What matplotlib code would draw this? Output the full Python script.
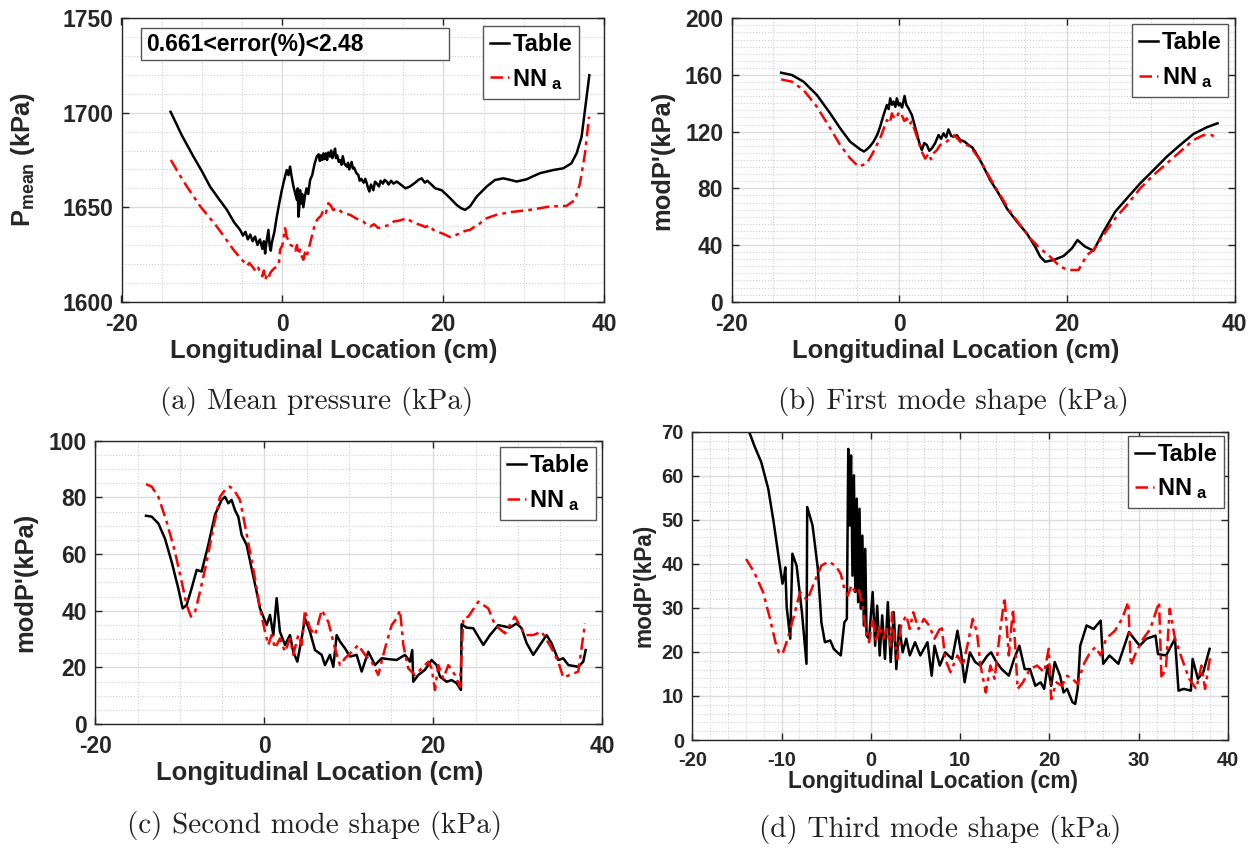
import numpy as np
import matplotlib
matplotlib.use('Agg')
import matplotlib.pyplot as plt
from matplotlib.ticker import MultipleLocator
from matplotlib.patches import Rectangle

plt.rcParams['font.family'] = ['Liberation Sans', 'DejaVu Sans']
plt.rcParams['font.weight'] = 'bold'
plt.rcParams['axes.labelweight'] = 'bold'
plt.rcParams['axes.unicode_minus'] = False
plt.rcParams['mathtext.fontset'] = 'custom'
plt.rcParams['mathtext.bf'] = 'Liberation Sans:bold'
plt.rcParams['mathtext.rm'] = 'Liberation Sans:bold'
plt.rcParams['mathtext.it'] = 'Liberation Sans:bold'
plt.rcParams['mathtext.default'] = 'bf'

# ---- (a) mean pressure ----
xa_table = [-13.9, -13.5, -12.5, -11.06, -10, -8.99, -8, -6.9, -6, -5.26, -4.9, -4.6, -4.3, -4.0, -3.7,
            -3.4, -3.1, -2.8, -2.5, -2.3, -2.15, -2.0, -1.85, -1.74, -1.6, -1.45, -1.33, -1.0, -0.7,
            -0.4, -0.08, 0.25, 0.54, 0.75, 0.95, 1.15, 1.37, 1.55, 1.78, 1.9, 1.99, 2.1, 2.19, 2.35,
            2.45, 2.6, 2.8, 3.0, 3.2, 3.44, 3.7, 4.0, 4.27, 4.5, 4.65, 4.8, 4.95, 5.1, 5.25, 5.4, 5.55,
            5.7, 5.92, 6.05, 6.2, 6.4, 6.54, 6.65, 6.8, 7.0, 7.16, 7.35, 7.5, 7.7, 8.0, 8.15, 8.3, 8.45,
            8.6, 8.75, 8.9, 9.2, 9.44, 9.6, 9.8, 10.1, 10.3, 10.48, 10.65, 10.8, 11.0, 11.3, 11.5, 11.7,
            12.0, 12.2, 12.5, 12.7, 12.96, 13.2, 13.5, 13.8, 14.2, 14.7, 15.3, 15.86, 16.5, 16.9, 17.3,
            17.7, 18.0, 18.34, 19.0, 19.79, 20.3, 20.83, 21.66, 22.2, 22.7, 23.3, 24.14, 25.4, 26.4,
            27.45, 28.3, 29.1, 30.35, 31.2, 32.0, 33.66, 34.9, 35.9, 36.56, 37.18, 37.6, 38.14]
pa_table = [1700.5, 1697, 1688, 1676.8, 1669, 1660.9, 1655, 1648.6, 1642, 1638, 1635, 1637, 1633, 1635.5,
            1632, 1634.5, 1630, 1633, 1628, 1632, 1625.5, 1631, 1635, 1638, 1630, 1627, 1631, 1637, 1645,
            1652, 1659, 1665, 1669.7, 1667, 1671.5, 1666, 1661, 1658, 1654, 1660, 1645, 1650, 1659, 1652,
            1657, 1650, 1656, 1660, 1657, 1664.4, 1667, 1673, 1676.8, 1678, 1674.5, 1677.5, 1675, 1678.5,
            1675.5, 1678.5, 1675, 1679, 1676.8, 1680, 1676, 1678.5, 1681, 1676, 1677.5, 1674, 1675, 1672.5,
            1677, 1673, 1671.5, 1673.5, 1670, 1672, 1674, 1670.5, 1671, 1668, 1667, 1664, 1665, 1663,
            1665, 1662.7, 1660, 1658.3, 1662, 1659, 1663.5, 1662.7, 1661, 1664, 1662.5, 1664.5, 1663.6,
            1662, 1664, 1662.5, 1663.6, 1662, 1660, 1661, 1663, 1664.5, 1665.3, 1663, 1664, 1662.7, 1660,
            1659, 1657, 1654.8, 1651.2, 1649.5, 1648.6, 1650.4, 1655.6, 1661, 1664.4, 1665.3, 1664.5,
            1663.6, 1664.8, 1666.5, 1668, 1669.7, 1670.6, 1673.2, 1678.5, 1687.3, 1701.4, 1719.9]
xa_nn = [-13.87, -12.9, -11.88, -10.2, -8.16, -7, -6.09, -5.5, -4.84, -4.4, -4.1, -3.6, -3.3, -3.0, -2.77,
         -2.5, -2.3, -2.15, -1.9, -1.7, -1.53, -1.2, -0.7, -0.45, -0.29, 0.0, 0.33, 0.55, 0.75, 1.0, 1.37,
         1.6, 1.8, 2.0, 2.19, 2.4, 2.6, 2.8, 3.0, 3.23, 3.5, 3.85, 4.1, 4.47, 4.8, 5.1, 5.4, 5.7, 6.0, 6.3,
         6.75, 7.5, 8.4, 9.2, 10.06, 10.5, 10.89, 11.4, 11.9, 12.55, 13.2, 13.8, 14.6, 15.44, 16.2, 17.1,
         17.8, 18.2, 18.76, 19.3, 20.0, 20.83, 21.4, 22.07, 22.7, 23.3, 23.8, 24.14, 24.8, 25.4, 26.6, 28.3,
         30.76, 33.25, 35.3, 36.36, 36.98, 37.6, 38.1]
pa_nn = [1675, 1668, 1661, 1650.4, 1639.8, 1633, 1627.5, 1624.5, 1621.3, 1619, 1620.5, 1617.8, 1616, 1618,
         1615.1, 1613.5, 1616.5, 1611.6, 1614.5, 1613, 1615.1, 1617, 1618.7, 1620, 1627.5, 1630, 1638.9,
         1634, 1632.7, 1630, 1629.2, 1627, 1630, 1625, 1627.5, 1624, 1622.2, 1626, 1624, 1627.5, 1632,
         1638, 1642, 1644.2, 1645.5, 1648.6, 1647, 1652.1, 1651, 1648.5, 1649.5, 1647, 1646, 1644, 1642.4,
         1640.5, 1639.8, 1641, 1639, 1639.8, 1640.5, 1642.4, 1643, 1644.2, 1642, 1640.7, 1639.5, 1640.5,
         1638, 1637, 1635.9, 1634.2, 1635, 1636.3, 1637.5, 1638, 1639.5, 1639.8, 1642.5, 1644.2, 1646,
         1647.4, 1648.6, 1650.4, 1650.7, 1653.9, 1662.7, 1678.5, 1697.9]

# ---- (b) first mode ----
xb_table = [-14.08, -12.8, -11.41, -9.82, -8.23, -7.04, -5.85, -4.65, -4.2, -3.86, -3.5, -3.06, -2.6,
            -2.27, -1.9, -1.47, -1.25, -1.07, -0.85, -0.68, -0.45, -0.28, -0.05, 0.12, 0.35, 0.64, 0.85,
            1.11, 1.51, 2.11, 2.4, 2.7, 3.0, 3.3, 3.6, 3.9, 4.3, 4.69, 5.0, 5.29, 5.6, 5.88, 6.2, 6.48,
            6.9, 7.28, 7.8, 8.27, 8.7, 9.06, 9.86, 10.85, 11.85, 12.84, 14.04, 15.23, 16.22, 16.82,
            17.42, 18.41, 19.6, 20.6, 21.27, 22.19, 23.18, 24.37, 25.77, 27.16, 28.75, 30.34, 31.93,
            33.52, 35.11, 36.7, 37.97]
mb_table = [161.6, 160, 155.3, 145.9, 132.9, 122.4, 112.9, 107.5, 106, 107.5, 109.5, 112.9, 118, 123.5,
            131, 138.8, 136, 143.5, 139, 141.2, 137.5, 143.5, 138.5, 140, 137, 145.2, 139, 136.5, 131.8,
            118.8, 112, 107.1, 112, 110.6, 106.5, 108.2, 112, 117.6, 115, 118.8, 116, 121.6, 117, 116.5,
            117.5, 114.1, 113, 110.6, 109, 105.9, 97.6, 85.9, 76.5, 65.9, 56.5, 48.2, 38.8, 31.8, 28.2,
            29.4, 32.2, 37.6, 43.5, 38.8, 36, 49.4, 63.5, 72.9, 83.5, 92.9, 102.4, 110.6, 118.4, 123.1,
            125.9]
xb_nn = [-14.08, -12.8, -11.41, -9.82, -8.23, -7.04, -5.85, -4.85, -3.86, -3.06, -2.27, -1.47, -1.1, -0.87,
         -0.55, -0.28, 0.0, 0.32, 0.6, 0.91, 1.2, 1.51, 2.11, 2.7, 3.1, 3.5, 3.8, 4.1, 4.5, 4.89, 5.5, 6.08,
         6.6, 7.28, 8.47, 9.66, 10.85, 12.05, 13.24, 14.43, 15.63, 16.82, 18.01, 19.2, 20.2, 21.39, 22.39,
         23.18, 24.37, 25.77, 27.16, 28.75, 30.34, 31.93, 33.52, 35.11, 36.3, 37.3, 37.97]
mb_nn = [156.9, 155.3, 149.4, 137.6, 122.4, 110.6, 101.2, 95.3, 97.6, 105.9, 115.3, 128.2, 126, 132.9, 129,
         130.6, 134, 131.8, 127.5, 129.4, 125, 127.1, 116.5, 105.9, 101, 104.5, 100.5, 104.7, 107, 110.6,
         112, 115.3, 117.5, 112.9, 109.4, 100, 87.1, 75.3, 63.5, 54.1, 44.7, 37.6, 31.8, 24.7, 22.4, 22.4,
         32.9, 36.5, 47.1, 58.8, 68.2, 80, 89.4, 97.6, 105.9, 114.1, 117.6, 117.6, 114.1]

# ---- (c) second mode ----
xc_table = [-14.0, -13.33, -12.54, -11.76, -10.97, -10.18, -9.66, -9.19, -8.6, -8.0, -7.42, -6.63, -5.84,
            -5.05, -4.65, -4.26, -3.87, -3.47, -3.08, -2.68, -2.09, -1.5, -0.91, -0.51, -0.12, 0.28, 0.67,
            1.07, 1.46, 1.85, 2.45, 3.04, 3.43, 3.91, 4.42, 4.81, 5.4, 6.0, 6.79, 7.18, 7.77, 8.17, 8.56,
            8.96, 9.55, 10.14, 10.93, 11.52, 12.31, 13.1, 13.89, 14.68, 15.66, 16.65, 17.24, 17.51, 17.63,
            18.22, 19.01, 19.8, 20.39, 20.79, 21.58, 22.17, 22.76, 23.27, 23.35, 23.94, 24.73, 25.92, 26.71,
            27.69, 28.48, 29.07, 29.86, 30.45, 31.05, 31.83, 32.62, 33.41, 34.0, 34.79, 35.38, 35.98, 37.16,
            37.75, 38.03]
mc_table = [73.5, 73.2, 70.8, 65.5, 57.3, 47.9, 40.8, 42, 47.9, 54.4, 53.8, 63.2, 73.8, 79.1, 80.2, 77.9,
            79.1, 75.5, 73.2, 66.7, 63.2, 54.9, 46.7, 40.8, 37.9, 34.9, 38.5, 31.4, 44.4, 32.6, 27.9, 31.4,
            25.5, 22, 30.2, 37.3, 32.6, 26.1, 24.4, 20.8, 24.4, 20.2, 31.4, 29.1, 26.7, 23.8, 24.4, 18.5, 25.5,
            20.8, 23.2, 22.9, 22.6, 24.4, 22, 26.1, 14.9, 17.3, 19.1, 22.6, 20.8, 16.7, 14.9, 15.5, 14.4, 12,
            35.2, 34, 33.8, 27.9, 31.4, 34.9, 34.4, 34, 35.5, 33.8, 28.5, 24.4, 27.9, 31.4, 28.5, 22.6, 23.2,
            20.8, 20.2, 22, 26.1]
xc_nn = [-14.0, -13.33, -12.54, -11.56, -10.57, -9.78, -9.19, -8.68, -8.2, -7.61, -6.82, -6.04, -5.25, -4.65,
         -4.06, -3.47, -2.88, -2.29, -1.7, -1.1, -0.51, 0.08, 0.47, 0.87, 1.26, 1.85, 2.45, 3.04, 3.43, 4.02,
         4.42, 4.81, 5.4, 6.0, 6.79, 7.57, 8.36, 8.96, 9.55, 10.34, 11.12, 11.91, 12.7, 13.49, 14.28, 15.07,
         15.66, 16.06, 16.45, 17.04, 17.83, 18.62, 19.41, 19.8, 20.2, 20.59, 21.18, 21.78, 22.56, 23.15,
         23.55, 24.14, 25.33, 26.51, 27.3, 28.48, 29.66, 30.85, 31.83, 32.82, 34.0, 34.79, 35.38, 37.16,
         37.95]
mc_nn = [84.7, 83.8, 80.2, 71.4, 60.8, 50.2, 42, 37.9, 39.6, 46.7, 57.3, 69.1, 80.2, 82.6, 83.8, 82, 79.1,
         70.2, 60.8, 51.4, 40.8, 32.6, 27.9, 31.4, 26.7, 30.2, 25.5, 30.2, 24.4, 31.4, 27.9, 40.2, 33.8,
         31.4, 40.2, 36.1, 26.7, 20.8, 23.2, 25.5, 27.9, 24.4, 22, 17.3, 26.7, 34.9, 37.3, 40.2, 27.9, 19.6,
         17.3, 19.6, 22, 19.6, 12, 20.8, 16.1, 20.8, 17.3, 13.2, 37.3, 37.9, 43.2, 40.8, 34.9, 32, 37.9, 31.4,
         31.4, 32.6, 26.7, 22, 16.4, 18.5, 35.5]

# ---- (d) third mode ----
xd_table = [-14.0, -13.07, -12.28, -11.49, -10.89, -10.3, -9.9, -9.7, -9.58, -9.43, -9.03, -8.79, -8.32,
            -7.72, -7.21, -7.13, -6.53, -5.94, -5.54, -5.15, -4.55, -4.16, -3.76, -3.37, -2.97, -2.69, -2.53,
            -2.38, -2.22, -2.06, -1.9, -1.74, -1.58, -1.43, -1.27, -1.11, -0.95, -0.79, -0.63, -0.48, -0.2,
            0.2, 0.48, 0.71, 0.99, 1.27, 1.58, 1.9, 2.22, 2.57, 2.85, 3.17, 3.56, 3.96, 4.36, 4.95, 5.54, 6.34,
            6.81, 7.13, 7.72, 8.32, 9.11, 9.7, 10.1, 10.5, 11.09, 11.68, 12.28, 13.07, 13.47, 14.06, 14.65,
            15.45, 16.04, 16.63, 17.23, 17.82, 18.42, 19.01, 19.41, 19.8, 20.2, 20.59, 21.19, 21.58, 21.98,
            22.57, 22.89, 23.17, 23.45, 24.16, 24.95, 25.74, 26.02, 26.73, 27.72, 28.91, 30.1, 30.89, 31.88,
            32.16, 33.07, 34.06, 34.46, 35.05, 35.84, 36.04, 36.63, 37.23, 37.94]
md_table = [72, 66.9, 63.1, 57, 49.5, 41.1, 35.5, 37.3, 39.2, 30.2, 23, 42.3, 39.6, 29, 17.3, 52.9, 48.7,
            38.9, 26.7, 22.2, 22.6, 20.7, 19.9, 19.2, 26.7, 27.5, 66.1, 48.7, 64.6, 37.3, 60.1, 33.6, 54.8,
            31.3, 52.5, 29.8, 46.4, 26, 43.4, 23.7, 23, 33.6, 21.4, 30.5, 19.2, 28.3, 18.4, 31.3, 17.7, 29,
            16.1, 26, 19.9, 23, 19.2, 22.2, 19.2, 22.2, 14.6, 21.4, 16.9, 19.9, 18.4, 24.8, 19.9, 13.1, 19.9,
            17.7, 16.9, 19.2, 19.9, 17.7, 16.1, 14.6, 18.4, 21.4, 16.1, 16.1, 12.3, 13.1, 11.6, 16.9, 12.3,
            17.7, 14.6, 10.8, 11.6, 8.6, 8.2, 11.6, 21.4, 26, 25.2, 27.1, 17.3, 19.2, 17.3, 24.5, 21.4, 23,
            23.7, 19.5, 19.2, 23, 11.2, 11.6, 11.2, 18.4, 13.9, 15.4, 20.7]
xd_nn = [-13.98, -13.07, -12.08, -11.29, -10.69, -10.3, -9.9, -9.31, -8.71, -7.92, -7.13, -6.34, -5.54,
         -4.75, -3.96, -3.37, -2.97, -2.57, -2.18, -1.78, -1.39, -0.99, -0.59, -0.2, 0.2, 0.59, 0.99, 1.39,
         1.78, 2.18, 2.38, 2.57, 2.97, 3.37, 3.96, 4.36, 4.75, 5.35, 5.94, 6.53, 7.13, 7.92, 8.32, 8.91, 9.7,
         10.3, 10.89, 11.41, 11.88, 12.28, 12.87, 13.39, 13.86, 14.46, 14.97, 15.45, 15.92, 16.44, 17.03,
         17.82, 18.61, 19.41, 19.92, 20.2, 20.79, 21.39, 21.98, 22.57, 23.17, 23.76, 24.55, 25.15, 25.74,
         26.34, 27.33, 28.12, 28.83, 29.11, 29.7, 30.5, 31.29, 32.28, 32.55, 33.07, 33.47, 34.06, 34.85,
         35.64, 36.44, 37.03, 37.43, 38.02]
md_nn = [41.1, 38.1, 33.6, 27.5, 22.2, 19.9, 19.5, 23, 27.5, 33.6, 31.7, 35.8, 39.6, 40.5, 39.6, 37.7, 34.3,
         32.8, 35.1, 33.6, 34.3, 31.3, 25.2, 22.2, 27.5, 22.2, 26, 23, 25.2, 21.4, 29, 23.7, 18.4, 26, 28.3,
         25.2, 29, 25.2, 27.5, 26, 23, 26, 18.4, 15.4, 19.2, 16.9, 22.2, 27.5, 24.5, 16.9, 10.8, 16.9, 13.9,
         24.5, 32.4, 19.2, 29.8, 11.6, 13.1, 16.1, 16.9, 15.4, 20.7, 9.3, 13.1, 12.3, 14.6, 13.9, 12.7, 16.9,
         19.9, 21.1, 19.2, 23, 24.8, 27.5, 31.3, 16.9, 19.9, 23, 25.2, 31.3, 13.9, 16.9, 29.8, 23, 18.4, 13.9,
         11.6, 16.9, 11.6, 19.2]

W, H = 1260, 848
fig = plt.figure(figsize=(W / 100, H / 100), dpi=100)


def box(l, r, t, b):
	return [l / W, 1 - b / H, (r - l) / W, (b - t) / H]


red_ls = (0, (5, 2, 1.5, 2))
dark = '#262626'


def style_axes(ax, xlim, ylim, yminor, xminor, tick_fs, lab_fs, ylabel, ylab_x, leg_anchor):
	ax.set_xlim(*xlim)
	ax.set_ylim(*ylim)
	ax.yaxis.set_minor_locator(MultipleLocator(yminor))
	ax.xaxis.set_minor_locator(MultipleLocator(xminor))
	ax.grid(True, which='major', color='#dcdcdc', linewidth=1.0, zorder=0)
	ax.grid(True, which='minor', color='#cfcfcf', linestyle=':', linewidth=0.8, zorder=0)
	ax.set_axisbelow(True)
	ax.tick_params(which='major', direction='in', length=5, width=1, top=True, right=True,
				   labelsize=tick_fs, colors=dark)
	ax.tick_params(axis='x', pad=8)
	ax.tick_params(axis='y', pad=6)
	ax.tick_params(which='minor', length=0)
	for s in ax.spines.values():
		s.set_color(dark)
		s.set_linewidth(1.0)
	ax.set_xlabel('Longitudinal Location (cm)', fontsize=lab_fs, color=dark)
	ax.set_ylabel(ylabel, fontsize=lab_fs, color=dark)
	ax.yaxis.set_label_coords(ylab_x, 0.5)
	leg = ax.legend(loc='upper right', bbox_to_anchor=leg_anchor, fontsize=17, handlelength=0.8,
					handletextpad=0.15, borderpad=0.3, labelspacing=0.45, fancybox=False,
					framealpha=1, edgecolor='#555555', borderaxespad=0)
	leg.get_frame().set_linewidth(1.0)
	return leg


nn_label = r'$\mathbf{NN}_{\ \mathbf{a}}$'

# (a)
ax = fig.add_axes(box(121.5, 604.3, 18.3, 301.7))
ax.plot(xa_table, pa_table, color='black', lw=1.8, label='Table')
ax.plot(xa_nn, pa_nn, color='red', lw=1.8, linestyle=red_ls, label=nn_label)
ax.set_xticks([-20, 0, 20, 40])
ax.set_yticks([1600, 1650, 1700, 1750])
style_axes(ax, (-20, 40), (1600, 1750), 10, 5, 16.5, 18.4, r'$\mathbf{P}_{\mathbf{mean}}$ (kPa)', -0.175,
		   (0.948, 0.973))
ax.add_patch(Rectangle((0.040, 0.853), 0.638, 0.112, transform=ax.transAxes, fc='white',
					   ec='#555555', lw=1.0, zorder=4))
ax.text(0.052, 0.909, '0.661<error(%)<2.48', transform=ax.transAxes, fontsize=16.5, va='center',
		ha='left', color='black', zorder=5)
ax.xaxis.set_label_coords(0.44, -0.13)

# (b)
ax = fig.add_axes(box(731.5, 1234.5, 18.3, 301.7))
ax.plot(xb_table, mb_table, color='black', lw=1.8, label='Table')
ax.plot(xb_nn, mb_nn, color='red', lw=1.8, linestyle=red_ls, label=nn_label)
ax.set_xticks([-20, 0, 20, 40])
ax.set_yticks([0, 40, 80, 120, 160, 200])
style_axes(ax, (-20, 40), (0, 200), 5, 5, 16.5, 18.4, "modP'(kPa)", -0.114, (0.988, 0.979))
ax.xaxis.set_label_coords(0.446, -0.13)

# (c)
ax = fig.add_axes(box(95.3, 602.3, 440.7, 724))
ax.plot(xc_table, mc_table, color='black', lw=1.8, label='Table')
ax.plot(xc_nn, mc_nn, color='red', lw=1.8, linestyle=red_ls, label=nn_label)
ax.set_xticks([-20, 0, 20, 40])
ax.set_yticks([0, 20, 40, 60, 80, 100])
style_axes(ax, (-20, 40), (0, 100), 5, 5, 16.5, 18.4, "modP'(kPa)", -0.115, (0.988, 0.977))
ax.xaxis.set_label_coords(0.443, -0.13)

# (d)
ax = fig.add_axes(box(692.3, 1228, 431.7, 740))
ax.plot(xd_table, md_table, color='black', lw=1.8, label='Table')
ax.plot(xd_nn, md_nn, color='red', lw=1.8, linestyle=red_ls, label=nn_label)
ax.set_xticks([-20, -10, 0, 10, 20, 30, 40])
ax.set_yticks(range(0, 71, 10))
style_axes(ax, (-20, 40), (0, 70), 2, 2, 14.5, 16.3, "modP'(kPa)", -0.068, (0.993, 0.987))
ax.xaxis.set_label_coords(0.449, -0.098)

captions = ['(a) Mean pressure (kPa)', '(b) First mode shape (kPa)',
			'(c) Second mode shape (kPa)', '(d) Third mode shape (kPa)']
cap_pos = [(317, 402), (953, 402), (315, 825), (940, 830)]
for c, (cx, cy) in zip(captions, cap_pos):
	fig.text(cx / W, 1 - cy / H, c, ha='center', va='center', fontsize=21, fontweight='normal',
			 family='cmr10', color='#222222')

fig.savefig('out.png', dpi=100)
